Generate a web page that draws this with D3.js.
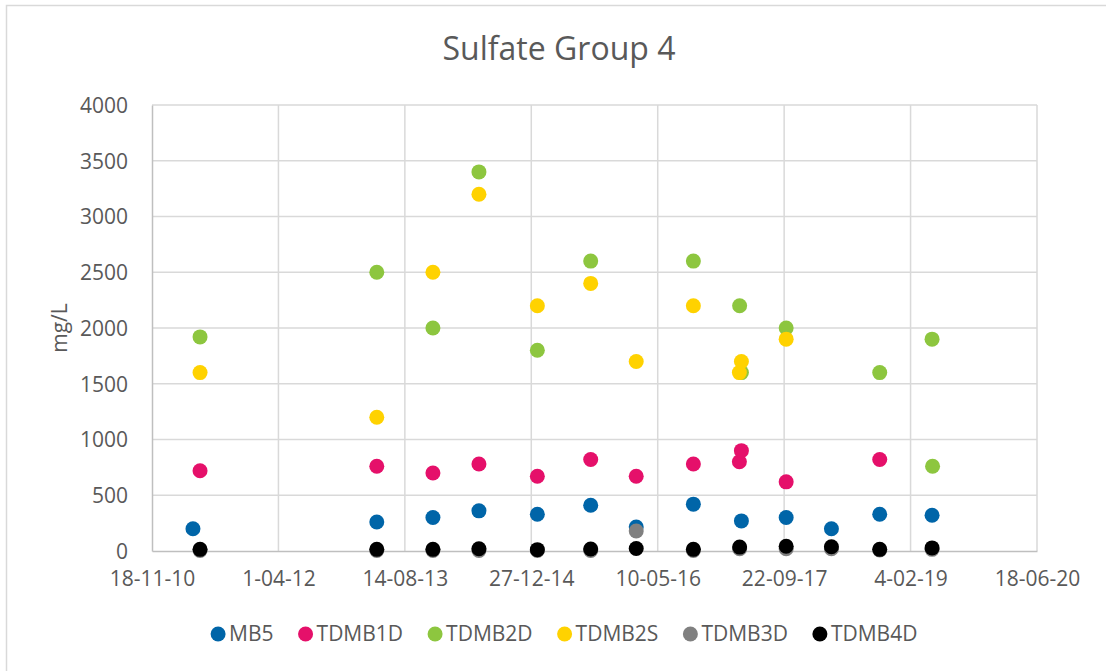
<!DOCTYPE html>
<html>
<head>
<meta charset="utf-8">
<script src="https://cdn.jsdelivr.net/npm/d3@7"></script>
<style>
  html, body { margin: 0; padding: 0; background: #fff; }
  svg { display: block; font-family: "Open Sans", "Liberation Sans", sans-serif; }
</style>
</head>
<body>
<svg id="chart" width="1106" height="671"></svg>
<script>
// Sulfate concentrations (mg/L) by monitoring well, sampled 2011–2019
const seriesNames = ["MB5", "TDMB1D", "TDMB2D", "TDMB2S", "TDMB3D", "TDMB4D"];
const seriesColors = ["#0065a8", "#e5106a", "#8dc63f", "#ffd200", "#808080", "#000000"];

const mb5 = [
  ["2011-04-29", 200], ["2013-04-25", 260], ["2013-12-03", 300], ["2014-06-03", 360],
  ["2015-01-20", 330], ["2015-08-19", 410], ["2016-02-15", 215], ["2016-09-28", 420],
  ["2017-04-06", 270], ["2017-09-30", 300], ["2018-03-28", 200], ["2018-10-05", 330],
  ["2019-04-30", 320]
];
const tdmb1d = [
  ["2011-05-27", 720], ["2013-04-25", 760], ["2013-12-03", 700], ["2014-06-03", 780],
  ["2015-01-20", 670], ["2015-08-19", 820], ["2016-02-15", 670], ["2016-09-28", 780],
  ["2017-03-29", 800], ["2017-04-06", 900], ["2017-09-30", 620], ["2018-10-05", 820]
];
const tdmb2d = [
  ["2011-05-27", 1920], ["2013-04-25", 2500], ["2013-12-03", 2000], ["2014-06-03", 3400],
  ["2015-01-20", 1800], ["2015-08-19", 2600], ["2016-09-28", 2600], ["2017-03-30", 2200],
  ["2017-04-06", 1600], ["2017-09-30", 2000], ["2018-10-05", 1600], ["2019-04-30", 1900],
  ["2019-05-02", 760]
];
const tdmb2s = [
  ["2011-05-27", 1600], ["2013-04-25", 1200], ["2013-12-03", 2500], ["2014-06-03", 3200],
  ["2015-01-20", 2200], ["2015-08-19", 2400], ["2016-02-15", 1700], ["2016-09-28", 2200],
  ["2017-03-29", 1600], ["2017-04-06", 1700], ["2017-09-30", 1900]
];
const tdmb3d = [
  ["2011-05-27", 5], ["2013-04-25", 5], ["2013-12-03", 5], ["2014-06-03", 5],
  ["2015-01-20", 5], ["2015-08-19", 5], ["2016-02-15", 180], ["2016-09-28", 5],
  ["2017-03-30", 20], ["2017-09-30", 20], ["2018-03-28", 20], ["2018-10-05", 10],
  ["2019-04-30", 15]
];
const tdmb4d = [
  ["2011-05-27", 15], ["2013-04-25", 15], ["2013-12-03", 15], ["2014-06-03", 20],
  ["2015-01-20", 12], ["2015-08-19", 18], ["2016-02-15", 22], ["2016-09-28", 15],
  ["2017-03-30", 35], ["2017-09-30", 42], ["2018-03-28", 38], ["2018-10-05", 15],
  ["2019-04-30", 28]
];
const seriesData = [mb5, tdmb1d, tdmb2d, tdmb2s, tdmb3d, tdmb4d];

// Axis ticks: every 500 days starting 18-11-2010
const xTickLabels = ["18-11-10", "1-04-12", "14-08-13", "27-12-14", "10-05-16", "22-09-17", "4-02-19", "18-06-20"];
const yTicks = [0, 500, 1000, 1500, 2000, 2500, 3000, 3500, 4000];

const parseDate = d3.timeParse("%Y-%m-%d");
const parseTick = d3.timeParse("%d-%m-%y");
const xTickDates = xTickLabels.map(parseTick);

const svg = d3.select("#chart");
const W = 1106, H = 671;
const plot = { left: 152, right: 1037, top: 105, bottom: 551 };

// chart frame
svg.append("rect")
  .attr("x", 6.5).attr("y", 5.5)
  .attr("width", W + 10).attr("height", H + 10)
  .attr("fill", "#fff").attr("stroke", "#d9d9d9").attr("stroke-width", 1.5);

const x = d3.scaleTime()
  .domain([xTickDates[0], xTickDates[xTickDates.length - 1]])
  .range([plot.left, plot.right]);
const y = d3.scaleLinear().domain([0, 4000]).range([plot.bottom, plot.top]);

const textColor = "#595959";
const gridColor = "#d9d9d9";
const labelSize = "21px";

// gridlines
const grid = svg.append("g");
grid.selectAll("line.h").data(yTicks.slice(1)).join("line")
  .attr("x1", plot.left).attr("x2", plot.right)
  .attr("y1", d => y(d)).attr("y2", d => y(d))
  .attr("stroke", gridColor).attr("stroke-width", 1.5);
grid.selectAll("line.v").data(xTickDates.slice(1)).join("line")
  .attr("x1", d => x(d)).attr("x2", d => x(d))
  .attr("y1", plot.top).attr("y2", plot.bottom)
  .attr("stroke", gridColor).attr("stroke-width", 1.5);

// y axis
const yAxis = svg.append("g")
  .attr("transform", `translate(${plot.left},0)`)
  .call(d3.axisLeft(y).tickValues(yTicks).tickSize(0).tickPadding(24).tickFormat(d3.format("d")));
yAxis.select(".domain").attr("stroke", "#bfbfbf").attr("stroke-width", 1.5);
yAxis.selectAll("text").attr("fill", textColor).style("font-size", labelSize)
  .style("font-family", "'Open Sans', sans-serif").attr("dy", "0.35em");

// x axis
const xAxis = svg.append("g")
  .attr("transform", `translate(0,${plot.bottom})`)
  .call(d3.axisBottom(x).tickValues(xTickDates).tickSize(0).tickPadding(20)
    .tickFormat((d, i) => xTickLabels[i]));
xAxis.select(".domain").attr("stroke", "#bfbfbf").attr("stroke-width", 1.5);
xAxis.selectAll("text").attr("fill", textColor).style("font-size", labelSize)
  .style("font-family", "'Open Sans', sans-serif");

// title
svg.append("text")
  .attr("x", 559).attr("y", 60)
  .attr("text-anchor", "middle")
  .attr("fill", textColor)
  .style("font-size", "32px")
  .text("Sulfate Group 4");

// y axis title
svg.append("text")
  .attr("transform", `translate(67,${(plot.top + plot.bottom) / 2}) rotate(-90)`)
  .attr("text-anchor", "middle")
  .attr("fill", textColor)
  .style("font-size", labelSize)
  .text("mg/L");

// markers, drawn in series order so later series sit on top
const r = 7.5;
seriesData.forEach((data, i) => {
  svg.append("g").selectAll("circle").data(data).join("circle")
    .attr("cx", d => x(parseDate(d[0])))
    .attr("cy", d => y(d[1]))
    .attr("r", r)
    .attr("fill", seriesColors[i]);
});

// legend
const legend = svg.append("g");
const legendY = 634;
const gap = 32;
let lx = 0;
seriesNames.forEach((name, i) => {
  const g = legend.append("g").attr("transform", `translate(${lx},${legendY})`);
  g.append("circle").attr("cx", 0).attr("cy", 0).attr("r", r).attr("fill", seriesColors[i]);
  const t = g.append("text").attr("x", 11).attr("y", 0).attr("dy", "0.35em")
    .attr("fill", textColor).style("font-size", labelSize).text(name);
  lx += 11 + t.node().getComputedTextLength() + gap;
});
const totalW = lx - gap + r;
legend.attr("transform", `translate(${564 - totalW / 2 + r},0)`);
</script>
</body>
</html>
